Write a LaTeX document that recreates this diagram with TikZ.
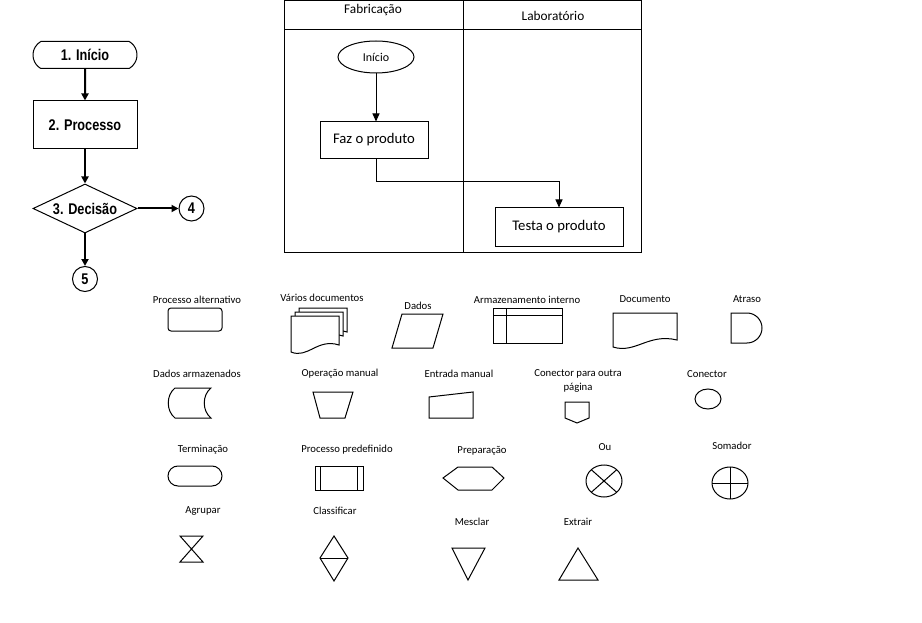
\documentclass[tikz,border=0pt]{standalone}
\usepackage{fontspec}
\setmainfont{Carlito}
\newfontfamily\flowfont{Liberation Sans}[FakeStretch=0.82]
\usetikzlibrary{arrows.meta,shapes.geometric,shapes.misc,positioning}

% --- styles shared by the three parts ---
\tikzset{
  shapeline/.style={draw=black, line width=1pt},
  flowline/.style={line width=2pt, -{Triangle[length=7pt,width=7pt]}},
  laneline/.style={line width=1pt, -{Triangle[length=8pt,width=7pt]}},
  flowtext/.style={font=\flowfont\bfseries\fontsize{15.5}{17}\selectfont},
  termbox/.style={shapeline, flowtext, rounded rectangle, rounded rectangle arc length=120,
    minimum width=104pt, minimum height=27pt, inner sep=0pt},
  procbox/.style={shapeline, flowtext, rectangle, minimum width=104pt, minimum height=48pt},
  decbox/.style={shapeline, flowtext, diamond, aspect=2.1, inner sep=0pt,
    minimum width=104pt, minimum height=49pt},
  refcircle/.style={shapeline, flowtext, circle, minimum size=25pt, inner sep=0pt},
  lanetitle/.style={font=\fontsize{13.3}{15}\selectfont, inner sep=0pt},
  lanebox/.style={shapeline, rectangle, font=\fontsize{14.7}{17}\selectfont},
  legend/.style={font=\fontsize{10.7}{14}\selectfont, inner sep=0pt, align=center}
}

% --- document symbol with a wavy bottom ---
% #1,#2 top-left corner, #3 width, #4 height at the left side
\newcommand{\docshape}[4]{
  \draw[shapeline, fill=white] (#1,#2) -- ({#1+#3},#2) -- ({#1+#3},{#2+#4-7})
    .. controls ({#1+0.55*#3},{#2+#4-14}) and ({#1+0.35*#3},{#2+#4+7}) .. (#1,{#2+#4}) -- cycle;
}

\begin{document}
\begin{tikzpicture}[x=1pt,y=-1pt]

% Canvas of the reference (922x623)
\useasboundingbox (0,0) rectangle (922,623);

% --- Left flowchart ---
\node[termbox] (inicio) at (85,55) {1. Início};
\node[procbox] (processo) at (85,125) {2. Processo};
\node[decbox] (decisao) at (85,208.5) {3. Decisão};
\node[refcircle] (quatro) at (191.5,208.5) {4};
\node[refcircle] (cinco) at (85,279) {5};

\draw[flowline] (inicio) -- (processo);
\draw[flowline] (processo) -- (decisao);
\draw[flowline] (decisao) -- (quatro);
\draw[flowline] (decisao) -- (cinco);

% --- Swimlane diagram ---
\draw[shapeline] (284,1) rectangle (641,253);
\draw[shapeline] (284,30) -- (641,30);
\draw[shapeline] (463,1) -- (463,253);

\node[lanetitle] (fabricacao) at (373,10) {Fabricação};
\node[lanetitle] (laboratorio) at (553,16) {Laboratório};

\node[shapeline, ellipse, minimum width=76pt, minimum height=32pt, inner sep=0pt,
  font=\fontsize{12}{14}\selectfont] (inicioLane) at (376,57) {Início};
\node[lanebox, minimum width=108pt, minimum height=37pt] (faz) at (374,140.5) {\raisebox{4pt}{Faz o produto}};
\node[lanebox, minimum width=128pt, minimum height=39pt] (testa) at (559,227.5) {\raisebox{4pt}{Testa o produto}};

\coordinate (dobra) at (376,182);
\draw[laneline] (inicioLane.south) -- (inicioLane.south |- faz.north);
\draw[laneline] (faz.south -| dobra) -- (dobra) -| (testa.north);

% --- Symbol legend, row 1 ---
\node[legend] (procAlt) at (197,300) {Processo alternativo};
\draw[shapeline, rounded corners=3pt] (168,308) rectangle (222,331);

\node[legend] (variosDoc) at (322,298) {Vários documentos};
\docshape{299}{308}{48}{31}
\docshape{295}{312}{48}{31}
\docshape{291}{316}{48}{36}

\node[legend] (dados) at (418,306) {Dados};
\draw[shapeline] (402,314) -- (443,314) -- (433,348) -- (392,348) -- cycle;

\node[legend] (armInterno) at (527,300) {Armazenamento interno};
\draw[shapeline] (493,308) rectangle (562,343);
\draw[shapeline] (493,315) -- (562,315);
\draw[shapeline] (506,308) -- (506,343);

\node[legend] (documento) at (645,299) {Documento};
\docshape{613}{313}{64}{34}

\node[legend] (atraso) at (747,299) {Atraso};
\draw[shapeline] (731,313) -- (747,313) arc[start angle=90, end angle=-90, radius=15pt]
  -- (731,343) -- cycle;

% --- Symbol legend, row 2 ---
\node[legend] (dadosArm) at (197,374) {Dados armazenados};
\draw[shapeline] (175,388) -- (211,388) .. controls (202,395) and (202,411) .. (211,418)
  -- (175,418) .. controls (166,411) and (166,395) .. (175,388) -- cycle;

\node[legend] (opManual) at (340,374) {Operação manual};
\draw[shapeline] (313,392) -- (353,392) -- (345,418) -- (320,418) -- cycle;

\node[legend] (entManual) at (459,374) {Entrada manual};
\draw[shapeline] (429,397) -- (473,392) -- (473,418) -- (429,418) -- cycle;

\node[legend] (conPagina) at (578,381) {Conector para outra\\página};
\draw[shapeline] (565,402) -- (589,402) -- (589,418) -- (577,423) -- (565,418) -- cycle;

\node[legend] (conector) at (707,374) {Conector};
\draw[shapeline] (708,399) ellipse [x radius=13pt, y radius=10pt];

% --- Symbol legend, row 3 ---
\node[legend] (terminacao) at (203,450) {Terminação};
\draw[shapeline] (178,466) -- (212,466) arc[start angle=90, end angle=-90, radius=10pt]
  -- (178,486) arc[start angle=270, end angle=90, radius=10pt] -- cycle;

\node[legend] (procPre) at (347,450) {Processo predefinido};
\draw[shapeline] (315,466) rectangle (363,490);
\draw[shapeline] (320,466) -- (320,490);
\draw[shapeline] (357,466) -- (357,490);

\node[legend] (preparacao) at (482,451) {Preparação};
\draw[shapeline] (443,478) -- (458,467) -- (492,467) -- (504,478) -- (492,490) -- (458,490) -- cycle;

\node[legend] (ou) at (605,447) {Ou};
\draw[shapeline] (604,481) ellipse [x radius=18pt, y radius=16pt];
\draw[shapeline] (591.3,469.7) -- (616.7,492.3);
\draw[shapeline] (591.3,492.3) -- (616.7,469.7);

\node[legend] (somador) at (732,446) {Somador};
\draw[shapeline] (730,483) ellipse [x radius=18pt, y radius=16pt];
\draw[shapeline] (712,483) -- (748,483);
\draw[shapeline] (730,467) -- (730,499);

% --- Symbol legend, row 4 ---
\node[legend] (agrupar) at (203,511) {Agrupar};
\draw[shapeline] (180,536) -- (203,536) -- (180,562) -- (203,562) -- cycle;

\node[legend] (classificar) at (335,511) {Classificar};
\draw[shapeline] (334,536) -- (348,558) -- (334,581) -- (320,558) -- cycle;
\draw[shapeline] (320,558) -- (348,558);

\node[legend] (mesclar) at (472,522) {Mesclar};
\draw[shapeline] (452,548) -- (485,548) -- (468,580) -- cycle;

\node[legend] (extrair) at (578,522) {Extrair};
\draw[shapeline] (578,548) -- (598,580) -- (559,580) -- cycle;

\end{tikzpicture}
\end{document}
